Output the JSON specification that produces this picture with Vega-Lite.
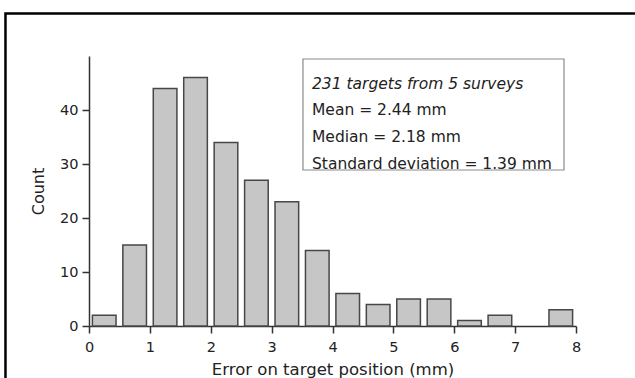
{
  "$schema": "https://vega.github.io/schema/vega-lite/v6.json",
  "width": 487,
  "height": 270,
  "autosize": "none",
  "padding": {"left": 89, "top": 56, "right": 59, "bottom": 52},
  "background": "white",
  "config": {"view": {"stroke": null}, "font": "DejaVu Sans"},
  "data": {"values": [
    {"bin_start": 0.0, "bin_end": 0.5, "count": 2},
    {"bin_start": 0.5, "bin_end": 1.0, "count": 15},
    {"bin_start": 1.0, "bin_end": 1.5, "count": 44},
    {"bin_start": 1.5, "bin_end": 2.0, "count": 46},
    {"bin_start": 2.0, "bin_end": 2.5, "count": 34},
    {"bin_start": 2.5, "bin_end": 3.0, "count": 27},
    {"bin_start": 3.0, "bin_end": 3.5, "count": 23},
    {"bin_start": 3.5, "bin_end": 4.0, "count": 14},
    {"bin_start": 4.0, "bin_end": 4.5, "count": 6},
    {"bin_start": 4.5, "bin_end": 5.0, "count": 4},
    {"bin_start": 5.0, "bin_end": 5.5, "count": 5},
    {"bin_start": 5.5, "bin_end": 6.0, "count": 5},
    {"bin_start": 6.0, "bin_end": 6.5, "count": 1},
    {"bin_start": 6.5, "bin_end": 7.0, "count": 2},
    {"bin_start": 7.0, "bin_end": 7.5, "count": 0},
    {"bin_start": 7.5, "bin_end": 8.0, "count": 3}
  ]},
  "layer": [
    {
      "mark": {"type": "rect", "fill": "#c6c6c6", "stroke": "#474747", "strokeWidth": 1.5, "xOffset": 3.4, "x2Offset": -3.4},
      "transform": [{"filter": "datum.count > 0"}],
      "encoding": {
        "x": {
          "field": "bin_start", "type": "quantitative",
          "scale": {"domain": [0, 8], "nice": false, "zero": false},
          "title": "Error on target position (mm)",
          "axis": {
            "values": [0, 0.5, 1, 1.5, 2, 2.5, 3, 3.5, 4, 4.5, 5, 5.5, 6, 6.5, 7, 7.5, 8],
            "labelExpr": "datum.value % 1 === 0 ? format(datum.value, 'd') : ''",
            "tickSize": {"condition": {"test": "datum.value % 1 === 0", "value": 7}, "value": 4},
            "domainColor": "#333333", "domainWidth": 1.5,
            "tickColor": "#333333", "tickWidth": 1.5,
            "labelFontSize": 14.5, "labelColor": "#222222", "labelPadding": 7,
            "labelFlush": false,
            "titleFontSize": 16.5, "titleFontWeight": "normal", "titleColor": "#222222", "titlePadding": 8,
            "grid": false
          }
        },
        "x2": {"field": "bin_end"},
        "y": {
          "field": "count", "type": "quantitative",
          "scale": {"domain": [0, 50], "nice": false},
          "title": "Count",
          "axis": {
            "values": [0, 5, 10, 15, 20, 25, 30, 35, 40, 45],
            "labelExpr": "datum.value % 10 === 0 ? format(datum.value, 'd') : ''",
            "tickSize": {"condition": {"test": "datum.value % 10 === 0", "value": 7}, "value": 4},
            "domainColor": "#333333", "domainWidth": 1.5,
            "tickColor": "#333333", "tickWidth": 1.5,
            "labelFontSize": 14.5, "labelColor": "#222222", "labelPadding": 4,
            "labelFlush": false,
            "titleFontSize": 16, "titleFontWeight": "normal", "titleColor": "#222222", "titlePadding": 13,
            "grid": false
          }
        }
      }
    },
    {
      "data": {"values": [{}]},
      "mark": {"type": "rect", "fill": "white", "stroke": "#8a8a8a", "strokeWidth": 1.2},
      "encoding": {
        "x": {"datum": 3.515, "type": "quantitative"},
        "x2": {"datum": 7.803},
        "y": {"datum": 49.44, "type": "quantitative"},
        "y2": {"datum": 28.89}
      }
    },
    {
      "data": {"values": [{}]},
      "mark": {"type": "text", "text": "231 targets from 5 surveys", "fontStyle": "italic", "fontSize": 15.5, "align": "left", "baseline": "alphabetic", "color": "#222222"},
      "encoding": {
        "x": {"datum": 3.663, "type": "quantitative"},
        "y": {"datum": 43.9, "type": "quantitative"}
      }
    },
    {
      "data": {"values": [{}]},
      "mark": {"type": "text", "text": ["Mean = 2.44 mm", "Median = 2.18 mm", "Standard deviation = 1.39 mm"], "fontSize": 15.5, "lineHeight": 26.6, "align": "left", "baseline": "alphabetic", "color": "#222222"},
      "encoding": {
        "x": {"datum": 3.663, "type": "quantitative"},
        "y": {"datum": 39.0, "type": "quantitative"}
      }
    },
    {
      "data": {"values": [{}]},
      "mark": {"type": "rect", "fill": null, "fillOpacity": 0, "stroke": "black", "strokeWidth": 2.5},
      "encoding": {
        "x": {"datum": -1.372, "type": "quantitative"},
        "x2": {"datum": 9.2},
        "y": {"datum": 57.87, "type": "quantitative"},
        "y2": {"datum": -14}
      }
    }
  ]
}
